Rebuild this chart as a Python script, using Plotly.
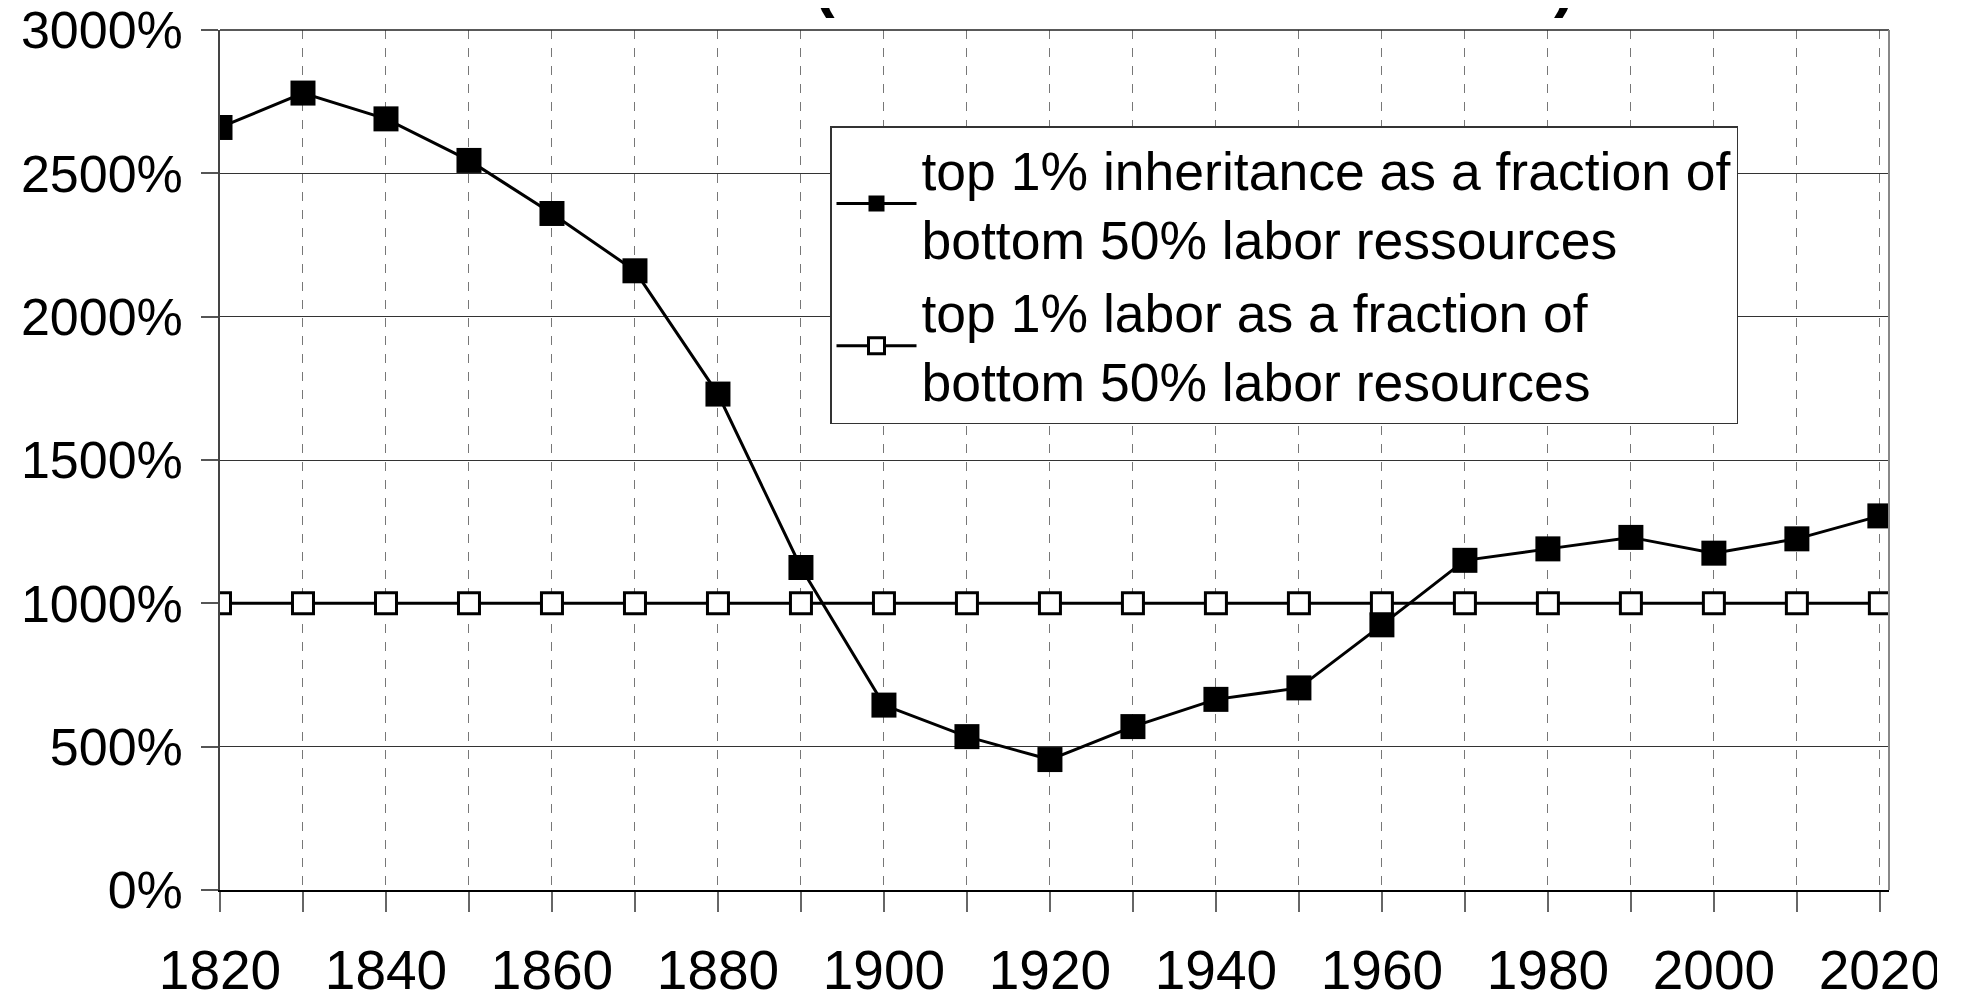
import plotly.graph_objects as go

years = [1820, 1830, 1840, 1850, 1860, 1870, 1880, 1890, 1900, 1910, 1920,
         1930, 1940, 1950, 1960, 1970, 1980, 1990, 2000, 2010, 2020]
inheritance = [2660, 2780, 2690, 2545, 2360, 2160, 1730, 1125, 645, 535, 455,
               570, 665, 705, 925, 1150, 1190, 1230, 1175, 1225, 1305]
labor = [1000] * 21

name_inh = "top 1% inheritance as a fraction of<br>bottom 50% labor ressources"
name_lab = "top 1% labor as a fraction of<br>bottom 50% labor resources"

FONT = "Liberation Sans, Arial, sans-serif"

# page body has an 8px margin: figure coords = screen coords - 8
W, H = 1946, 985
L, T, R, B = 212, 22, 1881, 882   # plot area in figure pixels
PW, PH = R - L, B - T

fig = go.Figure()
fig.add_trace(go.Scatter(
    x=years, y=inheritance, name=name_inh, mode="lines+markers",
    line=dict(color="black", width=3),
    marker=dict(symbol="square", size=25, color="black", line=dict(width=0)),
))
fig.add_trace(go.Scatter(
    x=years, y=labor, name=name_lab, mode="lines+markers",
    line=dict(color="black", width=3),
    marker=dict(symbol="square", size=21, color="white", line=dict(color="black", width=3)),
))

fig.update_layout(
    width=W, height=H,
    margin=dict(l=L, r=W - R, t=T, b=H - B, pad=0, autoexpand=False),
    paper_bgcolor="white", plot_bgcolor="white",
    font=dict(family=FONT, size=53, color="black"),
    showlegend=True,
    legend=dict(
        x=(822 - L) / PW, y=(B - 118) / PH, xanchor="left", yanchor="top",
        bgcolor="white", bordercolor="#333333", borderwidth=1.5,
        font=dict(family=FONT, size=53.5, color="black"),
        tracegroupgap=0, itemwidth=80, entrywidth=838, entrywidthmode="pixels",
    ),
)

fig.update_xaxes(
    range=[1820, 2021.1], tickmode="array", automargin=False,
    tickvals=list(range(1820, 2021, 20)),
    ticktext=[str(v) for v in range(1820, 2021, 20)],
    ticks="outside", ticklen=20, tickcolor="#666666", tickwidth=1.5,
    tickfont=dict(family=FONT, size=55, color="black"),
    ticklabelstandoff=11, ticklabeloverflow="allow",
    showline=True, linecolor="black", linewidth=1.5,
    showgrid=True, gridcolor="#777777", gridwidth=1.2, griddash="dash",
    minor=dict(tickvals=list(range(1830, 2021, 20)), ticks="outside", ticklen=20,
               tickcolor="#666666", tickwidth=1.5, showgrid=True,
               gridcolor="#777777", gridwidth=1.2, griddash="dash"),
    zeroline=False,
)
fig.update_yaxes(
    range=[0, 3000], tickmode="array", automargin=False,
    tickvals=[0, 500, 1000, 1500, 2000, 2500, 3000],
    ticktext=["0%", "500%", "1000%", "1500%", "2000%", "2500%", "3000%"],
    ticks="outside", ticklen=17, tickcolor="#555555", tickwidth=1.5,
    tickfont=dict(family=FONT, size=52, color="black"),
    ticklabelstandoff=8, ticklabeloverflow="allow",
    showline=True, linecolor="#444444", linewidth=1.5,
    showgrid=True, gridcolor="#333333", gridwidth=1.2,
    zeroline=False,
)

# top and right borders of plot area
fig.add_shape(type="line", xref="paper", yref="paper", x0=0, x1=1, y0=1, y1=1,
              line=dict(color="#222222", width=1.5), layer="above")
fig.add_shape(type="line", xref="paper", yref="paper", x0=1, x1=1, y0=0, y1=1,
              line=dict(color="#888888", width=2), layer="above")

# truncated title remnants at the very top
for ch, xs in (("(", 824), (")", 1564)):
    fig.add_annotation(text="<b>" + ch + "</b>", xref="paper", yref="paper",
                       x=(xs - 8 - L) / PW, y=1 + 47 / PH, xanchor="center", yanchor="middle",
                       showarrow=False, font=dict(family=FONT, size=62, color="black"))

# crop at the right edge as in the reference
fig.add_shape(type="rect", xref="paper", yref="paper",
              x0=(1929 - L) / PW, x1=(1975 - L) / PW, y0=-0.2, y1=-0.02,
              fillcolor="white", line=dict(width=0), layer="above")

fig.write_html("out.html")
